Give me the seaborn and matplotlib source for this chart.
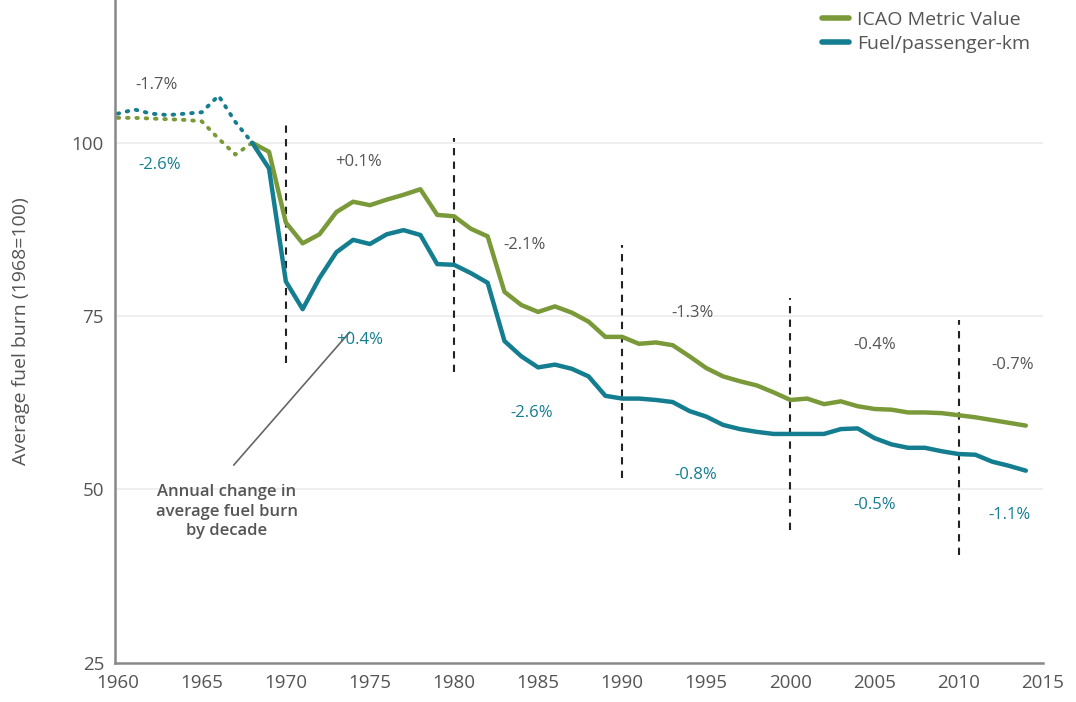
import numpy as np
import pandas as pd
import matplotlib
matplotlib.use("Agg")
import matplotlib.pyplot as plt
import seaborn as sns

# Data (index 1968 = 100)
early_years = list(range(1960, 1969))
icao_early = [103.6, 103.6, 103.5, 103.4, 103.3, 103.1, 100.6, 98.3, 100.0]
fuel_early = [104.2, 104.8, 104.2, 104.0, 104.2, 104.4, 106.8, 103.0, 100.0]

years = list(range(1968, 2015))
icao = [100.0, 98.7, 88.5, 85.5, 86.8, 90.0, 91.5, 91.0, 91.8, 92.5,
        93.3, 89.6, 89.4, 87.6, 86.5, 78.5, 76.6, 75.6, 76.4, 75.5,
        74.2, 72.0, 72.0, 71.0, 71.2, 70.8, 69.2, 67.5, 66.3, 65.6,
        65.0, 64.0, 62.9, 63.1, 62.3, 62.7, 62.0, 61.6, 61.5, 61.1,
        61.1, 61.0, 60.7, 60.4, 60.0, 59.6, 59.2]
fuel = [100.0, 96.3, 80.0, 76.0, 80.5, 84.2, 86.0, 85.4, 86.8, 87.4,
        86.7, 82.5, 82.4, 81.2, 79.8, 71.4, 69.2, 67.6, 68.0, 67.4,
        66.3, 63.5, 63.1, 63.1, 62.9, 62.6, 61.3, 60.5, 59.3, 58.7,
        58.3, 58.0, 58.0, 58.0, 58.0, 58.7, 58.8, 57.4, 56.5, 56.0,
        56.0, 55.5, 55.1, 55.0, 54.0, 53.4, 52.7]

# decade divider lines: (year, bottom, top)
dividers = [(1970, 68.2, 103.0), (1980, 67.0, 100.7), (1990, 51.7, 85.3),
            (2000, 44.2, 77.6), (2010, 40.5, 74.5)]

# decade labels: (x, y, text) for ICAO (grey) and fuel/pkm (teal)
icao_labels = [(1962.3, 108.4, "-1.7%"), (1974.3, 97.3, "+0.1%"),
               (1984.2, 85.3, "-2.1%"), (1994.2, 75.5, "-1.3%"),
               (2005.0, 70.9, "-0.4%"), (2013.2, 68.0, "-0.7%")]
fuel_labels = [(1962.5, 96.8, "-2.6%"), (1974.4, 71.6, "+0.4%"),
               (1984.6, 61.0, "-2.6%"), (1994.4, 52.1, "-0.8%"),
               (2005.0, 47.8, "-0.5%"), (2013.0, 46.3, "-1.1%")]

green = "#7a9a3a"
teal = "#147e90"
grey = "#555555"

sns.set_style("white")
plt.rcParams['font.family'] = ['Open Sans', 'DejaVu Sans']

df = pd.DataFrame({
    "year": years * 2,
    "value": icao + fuel,
    "series": ["ICAO Metric Value"] * len(years) + ["Fuel/passenger-km"] * len(years),
})
df_early = pd.DataFrame({
    "year": early_years * 2,
    "value": icao_early + fuel_early,
    "series": ["ICAO Metric Value"] * len(early_years) + ["Fuel/passenger-km"] * len(early_years),
})

fig = plt.figure(figsize=(10.76, 7.02), dpi=100)
ax = fig.add_axes([0.107, 0.056, 0.862, 0.944])

palette = {"ICAO Metric Value": green, "Fuel/passenger-km": teal}

for y in [50, 75, 100]:
    ax.axhline(y, color="#ececec", lw=1.2, zorder=0)

sns.lineplot(data=df_early, x="year", y="value", hue="series", palette=palette,
             ax=ax, lw=2.8, linestyle=(0, (0.4, 2.0)), dash_capstyle="round",
             legend=False)
sns.lineplot(data=df, x="year", y="value", hue="series", palette=palette,
             ax=ax, lw=3.2)

for x, lo, hi in dividers:
    ax.plot([x, x], [lo, hi], color="#222222", lw=1.5, ls=(0, (3.5, 3)), zorder=1)

for x, y, t in icao_labels:
    ax.text(x, y, t, color=grey, fontsize=12, fontweight="medium",
            ha="center", va="center")
for x, y, t in fuel_labels:
    ax.text(x, y, t, color=teal, fontsize=12, fontweight="medium",
            ha="center", va="center")

ax.text(1966.5, 46.8, "Annual change in\naverage fuel burn\nby decade",
        ha="center", va="center", fontsize=12, fontweight="semibold",
        color=grey, linespacing=1.3)
ax.plot([1966.9, 1973.8], [53.5, 72.7], color="#666666", lw=1.2)

ax.set_xlim(1959.85, 2014.8)
ax.set_ylim(25, 120.6)
ax.set_xticks(range(1960, 2016, 5))
ax.set_yticks([25, 50, 75, 100])
ax.set_xlabel("")
ax.set_ylabel("Average fuel burn (1968=100)", color=grey, fontsize=14, labelpad=30)
ax.tick_params(axis="both", colors=grey, labelsize=13.5, length=0, pad=8)

sns.despine(ax=ax)
for s in ["left", "bottom"]:
    ax.spines[s].set_color("#888888")
    ax.spines[s].set_linewidth(1.8)

leg = ax.legend(loc="upper right", bbox_to_anchor=(1.005, 1.01), frameon=False,
                fontsize=14, handlelength=1.4, handletextpad=0.4,
                labelspacing=0.3, labelcolor=grey)
for line in leg.get_lines():
    line.set_linewidth(4)

fig.savefig("out.png", dpi=100)
